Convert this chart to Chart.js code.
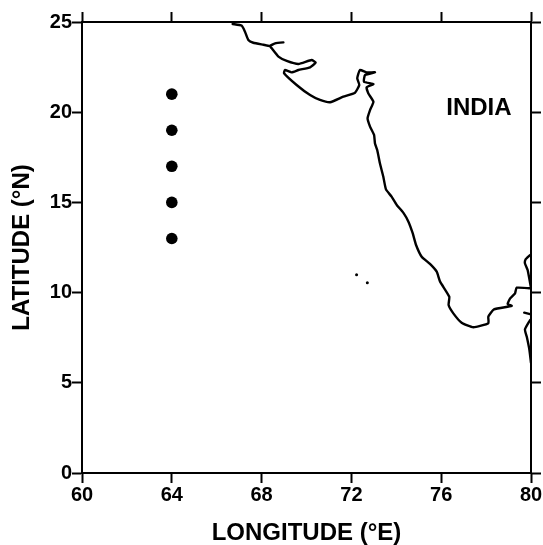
<!DOCTYPE html>
<html>
<head>
<meta charset="utf-8">
<style>
  html, body { margin: 0; padding: 0; background: #fff; }
  #holder { width: 543px; height: 545px; }
</style>
<script src="https://cdn.jsdelivr.net/npm/chart.js@4"></script>
</head>
<body>
<div id="holder"><canvas id="mapa"></canvas></div>
<script>
// stations
var stationLon = [64, 64, 64, 64, 64];
var stationLat = [21, 19, 17, 15, 13];

// coast, west coast from Pakistan border round to the tip and up the east side
var coastLon = [66.71,67.11,67.26,67.41,67.63,68.08,68.37,68.60,68.97,68.60,68.37,68.45,68.75,69.12,69.64,70.23,70.41,70.16,69.64,69.34,69.04,69.00,69.56,70.16,70.60,71.05,71.64,72.16,72.35,72.26,72.38,72.68,73.05,72.61,72.56,72.98,72.68,72.75,72.98,72.83,72.72,72.83,73.01,73.05,73.15,73.27,73.42,73.54,73.79,74.02,74.31,74.54,74.73,74.88,75.13,75.50,75.80,75.95,76.36,76.33,76.54,76.91,77.43,78.10,78.10,78.35,79.14,78.96,79.07,79.29,79.36,79.96];
var coastLat = [24.89,24.80,24.46,24.00,23.85,23.74,23.67,23.82,23.87,23.82,23.67,23.54,23.08,22.84,22.67,22.89,22.75,22.49,22.34,22.21,22.34,22.16,21.51,20.95,20.68,20.55,20.86,21.08,21.51,21.88,22.34,22.21,22.21,22.06,21.69,21.56,21.38,21.05,20.58,20.12,19.66,19.20,18.74,18.27,17.90,17.17,16.43,15.72,15.32,14.86,14.43,13.93,13.29,12.64,11.99,11.59,11.16,10.61,9.77,9.31,8.85,8.33,8.08,8.30,8.67,9.07,9.26,9.37,9.68,9.96,10.27,10.24];

// small bits of coast next to the right hand axis
var eastALon = [79.99,79.85,79.73,79.76,79.96];
var eastALat = [10.33,11.25,11.62,11.84,12.08];
var eastBLon = [79.70,79.96];
var eastBLat = [8.89,8.81];
var eastCLon = [79.96,79.73,79.81,79.93,80.00];
var eastCLat = [8.48,7.96,7.56,6.82,6.10];

// islands
var islandLon = [72.23, 72.71];
var islandLat = [10.99, 10.55];

var xTicks = [60, 64, 68, 72, 76, 80];
var yTicks = [0, 5, 10, 15, 20, 25];
var xTitle = 'LONGITUDE (°E)';
var yTitle = 'LATITUDE (°N)';
var placeName = 'INDIA';
var placeLon = 77.68;
var placeLat = 20.23;

function pares(xs, ys) {
  return xs.map(function (x, i) { return { x: x, y: ys[i] }; });
}

function linea(xs, ys) {
  return {
    type: 'line',
    data: pares(xs, ys),
    borderColor: '#000',
    borderWidth: 2.4,
    borderJoinStyle: 'round',
    borderCapStyle: 'round',
    pointRadius: 0,
    tension: 0.15,
    fill: false
  };
}

var fuenteTicks = { family: 'Liberation Sans', size: 20, weight: 'bold', lineHeight: 1 };
var fuenteTitulo = { family: 'Liberation Sans', size: 24, weight: 'bold', lineHeight: 1 };

function rejilla() {
  return {
    display: true,
    drawOnChartArea: false,
    drawTicks: true,
    tickLength: 10,
    tickWidth: 2,
    tickColor: '#000'
  };
}
var borde = { display: true, width: 2, color: '#000' };

// text label placed with the scales
var etiqueta = {
  id: 'etiqueta',
  afterDatasetsDraw: function (chart) {
    var ctx = chart.ctx;
    ctx.save();
    ctx.font = 'bold 24px "Liberation Sans"';
    ctx.fillStyle = '#000';
    ctx.textAlign = 'center';
    ctx.textBaseline = 'middle';
    ctx.fillText(placeName, chart.scales.x.getPixelForValue(placeLon), chart.scales.y.getPixelForValue(placeLat));
    ctx.restore();
  }
};

var config = {
  type: 'scatter',
  data: {
    datasets: [
      linea(coastLon, coastLat),
      linea(eastALon, eastALat),
      linea(eastBLon, eastBLat),
      linea(eastCLon, eastCLat),
      {
        data: pares(islandLon, islandLat),
        backgroundColor: '#000',
        borderWidth: 0,
        pointRadius: 1.5
      },
      {
        data: pares(stationLon, stationLat),
        backgroundColor: '#000',
        borderWidth: 0,
        pointRadius: 5.8
      }
    ]
  },
  options: {
    responsive: false,
    animation: false,
    layout: { padding: 0 },
    plugins: { legend: { display: false }, tooltip: { enabled: false } },
    scales: {
      x: {
        type: 'linear',
        position: 'bottom',
        min: 60,
        max: 80,
        afterBuildTicks: function (s) { s.ticks = xTicks.map(function (v) { return { value: v }; }); },
        afterFit: function (s) { s.height = 72; s.paddingLeft = 0; s.paddingRight = 0; },
        grid: rejilla(),
        border: borde,
        ticks: { color: '#000', font: fuenteTicks, padding: 2, maxRotation: 0, autoSkip: false },
        title: { display: true, text: xTitle, color: '#000', font: fuenteTitulo, padding: { top: 0, bottom: 0 } }
      },
      x2: {
        type: 'linear',
        position: 'top',
        min: 60,
        max: 80,
        afterBuildTicks: function (s) { s.ticks = xTicks.map(function (v) { return { value: v }; }); },
        afterFit: function (s) { s.height = 22; },
        grid: rejilla(),
        border: borde,
        ticks: { display: false }
      },
      y: {
        type: 'linear',
        position: 'left',
        min: 0,
        max: 25,
        afterBuildTicks: function (s) { s.ticks = yTicks.map(function (v) { return { value: v }; }); },
        afterFit: function (s) { s.width = 82; s.paddingTop = 0; s.paddingBottom = 0; },
        grid: rejilla(),
        border: borde,
        ticks: { color: '#000', font: fuenteTicks, padding: 0, autoSkip: false },
        title: { display: true, text: yTitle, color: '#000', font: fuenteTitulo, padding: { top: 10, bottom: 0 } }
      },
      y2: {
        type: 'linear',
        position: 'right',
        min: 0,
        max: 25,
        afterBuildTicks: function (s) { s.ticks = yTicks.map(function (v) { return { value: v }; }); },
        afterFit: function (s) { s.width = 12; },
        grid: rejilla(),
        border: borde,
        ticks: { display: false }
      }
    }
  },
  plugins: [etiqueta]
};

var cv = document.getElementById('mapa');
cv.width = 543;
cv.height = 545;
var chart = new Chart(cv.getContext('2d'), config);
</script>
</body>
</html>
